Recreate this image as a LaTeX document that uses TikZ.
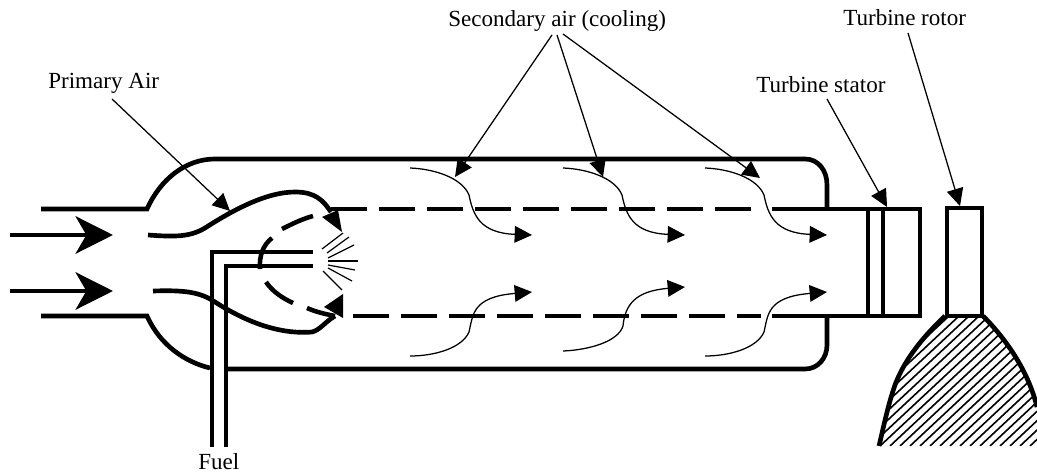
\documentclass[tikz,border=0pt]{standalone}
\usepackage{fontspec}
\setmainfont{Liberation Serif}
\usetikzlibrary{arrows.meta}
\tikzset{
  wall/.style={line width=3.5pt,line cap=butt,line join=miter},
  pipe/.style={line width=3.4pt,line cap=butt},
  inlet/.style={line width=3.6pt,-{Stealth[length=28pt,width=28pt,inset=8pt]}},
  lead/.style={line width=0.95pt,-{Triangle[length=13pt,width=12.5pt]}},
  flow/.style={line width=0.95pt,-{Triangle[length=13pt,width=12.5pt]}},
  spray/.style={line width=0.9pt},
  hatchline/.style={line width=1.2pt},
  head/.style={fill=black,draw=none},
  lbl/.style={inner sep=0pt,anchor=base west,font=\fontsize{17.3pt}{20pt}\selectfont}
}
\begin{document}
\begin{tikzpicture}[x=0.75pt,y=-0.75pt]
\useasboundingbox (0,0) rectangle (1037,473);
% labels
\node[lbl] (secondary) at (448,27) {Secondary air (cooling)};
\node[lbl] (rotor) at (843,26) {Turbine rotor};
\node[lbl] (stator) at (756,93) {Turbine stator};
\node[lbl] (primary) at (48,89) {Primary Air};
\node[lbl] (fuel) at (198,469) {Fuel};
% hatching of disk
\begin{scope}
\clip (945,316) .. controls (925,335) and (905,358) .. (895,385) .. controls (888,405) and (884,425) .. (879,446) -- (1037,446) -- (1037,407) .. controls (1028,370) and (1005,338) .. (983,316) -- cycle;
\foreach \k in {0,...,26}{
  \draw[hatchline] ({790+10*\k},446) -- ++(170,-159);
}
\end{scope}
% disk outline and rotor
\draw[wall] (945,316) .. controls (925,335) and (905,358) .. (895,385) .. controls (888,405) and (884,425) .. (879,446);
\draw[wall] (983,316) .. controls (1005,338) and (1028,370) .. (1037,407);
\draw[wall] (947,208) rectangle (982,316);
% casing
\draw[wall] (41,209) -- (147,209) .. controls (160,180) and (185,159) .. (215,159) -- (805,159) .. controls (818,159) and (827,170) .. (827,185) -- (827,209);
\draw[wall] (41,316) -- (147,316) .. controls (160,345) and (185,362) .. (210,368);
\draw[wall] (227,369) -- (805,369) .. controls (818,369) and (827,358) .. (827,345) -- (827,316);
% liner dashes top
\foreach \a in {331,379,427,475,523,571,619,667,715}{
  \draw[wall] (\a,209) -- ++(36,0);
}
% liner bottom dashes
\foreach \a in {353,401,449,497,545,593,641,689}{
  \draw[wall] (\a,316) -- ++(36,0);
}
\draw[wall] (737,316) -- (761,316);
% stator
\draw[wall] (772,209) -- (920,209) -- (920,316) -- (772,316);
\draw[wall] (868,209) -- (868,316);
\draw[wall] (883,209) -- (883,316);
% primary liner
\draw[wall] (148,235) .. controls (175,237) and (190,237) .. (205,228) .. controls (230,212) and (265,192) .. (295,192) .. controls (315,192) and (323,200) .. (331,212);
\filldraw[head] (342,232) -- (322,217) -- (338,210) -- cycle;
\draw[wall] (153,291) .. controls (185,290) and (200,292) .. (215,302) .. controls (240,318) and (275,335) .. (312,332) .. controls (320,330) and (325,322) .. (335,316);
\filldraw[head] (343,294) -- (324,307) -- (343,318) -- cycle;
% fuel pipes
\draw[pipe] (212,447) -- (212,252) -- (313,252);
\draw[pipe] (226,447) -- (226,266) -- (313,266);
% inner dashed arc
\draw[pipe] (313,216) .. controls (302,219) and (292,224) .. (282,229);
\draw[pipe] (272,238) .. controls (263,245) and (259,256) .. (260,269);
\draw[pipe] (266,282) .. controls (272,291) and (282,298) .. (293,303);
\draw[pipe] (307,308) .. controls (316,312) and (325,314) .. (335,316);
% spray
\draw[spray] (322,249) -- (343,233);
\draw[spray] (327,253) -- (349,237);
\draw[spray] (328,258) -- (354,245);
\draw[spray] (328,261) -- (358,261);
\draw[spray] (328,265) -- (355,270);
\draw[spray] (328,268) -- (352,281);
\draw[spray] (323,271) -- (342,290);
% inlet arrows
\coordinate (in1a) at (10,235); \coordinate (in1b) at (113,235);
\coordinate (in2a) at (10,291); \coordinate (in2b) at (113,291);
\draw[inlet] (in1a) -- (in1b);
\draw[inlet] (in2a) -- (in2b);
% secondary flow curves
\draw[flow] (410,168) .. controls (435,169) and (462,178) .. (469,195) .. controls (473,215) and (480,233) .. (532,235);
\draw[flow] (563,168) .. controls (588,169) and (615,178) .. (622,195) .. controls (626,215) and (633,233) .. (685,235);
\draw[flow] (705,168) .. controls (730,169) and (757,178) .. (764,195) .. controls (768,215) and (775,233) .. (827,235);
\draw[flow] (410,356) .. controls (435,356) and (462,348) .. (469,332) .. controls (473,315) and (472,297) .. (532,292);
\draw[flow] (563,351) .. controls (588,350) and (618,342) .. (623,326) .. controls (625,305) and (635,291) .. (685,287);
\draw[flow] (705,356) .. controls (730,356) and (757,348) .. (764,332) .. controls (768,315) and (767,297) .. (827,292);
% leaders
\coordinate (fromprimary) at (112,99); \coordinate (toprimary) at (230,211);
\coordinate (froms1) at (552,35); \coordinate (tos1) at (455,177);
\coordinate (froms2) at (557,35); \coordinate (tos2) at (603,177);
\coordinate (froms3) at (563,34); \coordinate (tos3) at (760,178);
\coordinate (fromstator) at (827,99); \coordinate (tostator) at (887,207);
\coordinate (fromrotor) at (908,33); \coordinate (torotor) at (960,206);
\draw[lead] (fromprimary) -- (toprimary);
\draw[lead] (froms1) -- (tos1);
\draw[lead] (froms2) -- (tos2);
\draw[lead] (froms3) -- (tos3);
\draw[lead] (fromstator) -- (tostator);
\draw[lead] (fromrotor) -- (torotor);
\end{tikzpicture}
\end{document}
